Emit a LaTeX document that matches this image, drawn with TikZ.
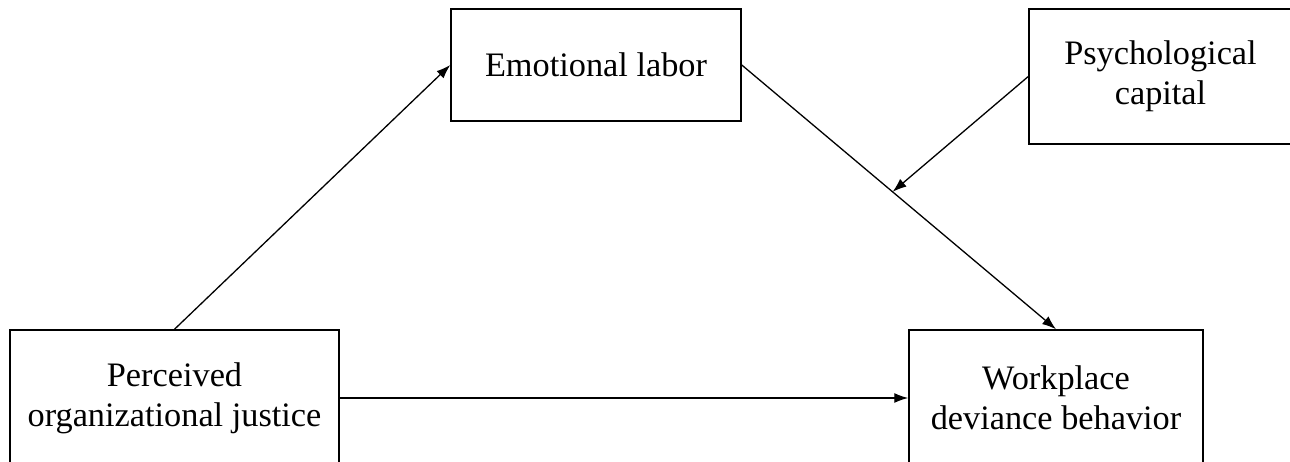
\documentclass[tikz,border=0pt]{standalone}
\usepackage{fontspec}
\setmainfont{Liberation Serif}
\usetikzlibrary{arrows.meta}
\begin{document}
\begin{tikzpicture}[x=1pt,y=-1pt,
  box/.style={draw, line width=1.5pt, inner sep=0pt, align=center,
    font=\fontsize{34.3}{40}\selectfont},
  arr/.style={line width=1.3pt, -{Latex[length=14pt,width=10pt]}}]
\fill[white] (0,0) rectangle (1290,462);
\useasboundingbox (0,0) rectangle (1290,462);
\clip (0,0) rectangle (1290,462);
\node[box, minimum width=290pt, minimum height=112pt] (el) at (596,65) {Emotional labor};
\node[box, minimum width=263pt, minimum height=135pt] (psy) at (1160.5,76.5) {Psychological\\capital};
\node[box, minimum width=329pt, minimum height=136pt] (pj) at (174.5,398) {Perceived\\organizational justice};
\node[box, minimum width=294pt, minimum height=136pt] (wdb) at (1056,398) {Workplace\\deviance behavior};
\draw[arr] (pj.north) -- (el.west);
\draw[arr] (el.east) -- (wdb.north) coordinate[pos=0.48] (mid);
\draw[arr] (psy.west) -- (mid);
\draw[arr] (pj.east) -- (wdb.west);
\end{tikzpicture}
\end{document}
